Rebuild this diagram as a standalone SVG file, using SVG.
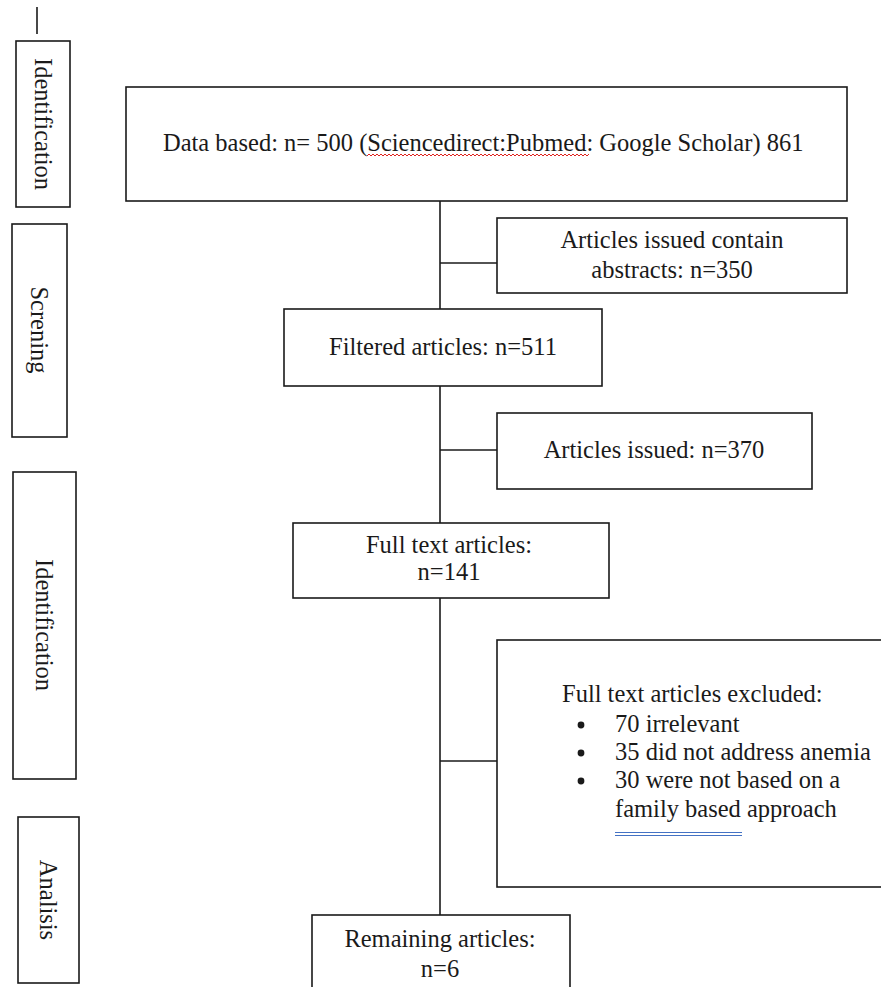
<svg xmlns="http://www.w3.org/2000/svg" width="881" height="987" viewBox="0 0 881 987">
<style>
  .box{fill:#fff;stroke:#1a1a1a;stroke-width:1.6}
  .t{font-family:"Liberation Serif","Times New Roman",serif;font-size:24.5px;fill:#1a1a1a}
  .c{text-anchor:middle}
  .r{text-anchor:middle;dominant-baseline:central}
  .ln{stroke:#1a1a1a;stroke-width:1.6;fill:none}
</style>
<defs>
  <pattern id="squig" patternUnits="userSpaceOnUse" x="367" y="153" width="4" height="4">
    <path d="M0,3 L2,1 L4,3" stroke="#e0201c" stroke-width="1" fill="none"/>
  </pattern>
</defs>
<rect width="881" height="987" fill="#fff"/>

<g id="connectors">
  <line class="ln" x1="37" y1="7" x2="37" y2="34"/>
  <line class="ln" x1="440" y1="201" x2="440" y2="309"/>
  <line class="ln" x1="440" y1="386" x2="440" y2="523"/>
  <line class="ln" x1="440" y1="598" x2="440" y2="915"/>
  <line class="ln" x1="440" y1="263" x2="497" y2="263"/>
  <line class="ln" x1="440" y1="450" x2="497" y2="450"/>
  <line class="ln" x1="440" y1="761" x2="497" y2="761"/>
</g>

<g id="stage-identification-1">
  <rect class="box" x="16" y="41" width="54" height="166"/>
  <text class="t r" transform="rotate(90 43 124)" x="43" y="124">Identification</text>
</g>
<g id="stage-screning">
  <rect class="box" x="12" y="224" width="55" height="213"/>
  <text class="t r" transform="rotate(90 39.5 330)" x="39.5" y="330">Screning</text>
</g>
<g id="stage-identification-2">
  <rect class="box" x="13" y="472" width="63" height="307"/>
  <text class="t r" transform="rotate(90 44.5 625)" x="44.5" y="625">Identification</text>
</g>
<g id="stage-analisis">
  <rect class="box" x="18" y="817" width="61" height="166"/>
  <text class="t r" transform="rotate(90 48.5 900)" x="48.5" y="900">Analisis</text>
</g>

<g id="data-based">
  <rect class="box" x="126" y="87" width="721" height="114"/>
  <text class="t" x="163" y="151">Data based: n= 500 (Sciencedirect:Pubmed: Google Scholar) 861</text>
  <rect x="367" y="153" width="222" height="4" fill="url(#squig)"/>
</g>

<g id="abstracts">
  <rect class="box" x="497" y="218" width="350" height="75"/>
  <text class="t c" x="672" y="248">Articles issued contain</text>
  <text class="t c" x="672" y="278">abstracts: n=350</text>
</g>

<g id="filtered">
  <rect class="box" x="284" y="309" width="318" height="77"/>
  <text class="t c" x="443" y="355">Filtered articles: n=511</text>
</g>

<g id="issued">
  <rect class="box" x="497" y="413" width="315" height="76"/>
  <text class="t c" x="654" y="458">Articles issued: n=370</text>
</g>

<g id="fulltext">
  <rect class="box" x="293" y="523" width="316" height="75"/>
  <text class="t c" x="449" y="553">Full text articles:</text>
  <text class="t c" x="449" y="580">n=141</text>
</g>

<g id="excluded">
  <rect class="box" x="497" y="640" width="400" height="247"/>
  <text class="t" x="562" y="702">Full text articles excluded:</text>
  <circle cx="581" cy="725" r="3.4" fill="#1a1a1a"/>
  <circle cx="581" cy="753" r="3.4" fill="#1a1a1a"/>
  <circle cx="581" cy="781" r="3.4" fill="#1a1a1a"/>
  <text class="t" x="615" y="732">70 irrelevant</text>
  <text class="t" x="615" y="760">35 did not address anemia</text>
  <text class="t" x="615" y="788">30 were not based on a</text>
  <text class="t" x="615" y="817">family based approach</text>
  <line x1="615" y1="832.5" x2="742" y2="832.5" stroke="#4472c4" stroke-width="1"/>
  <line x1="615" y1="835.5" x2="742" y2="835.5" stroke="#4472c4" stroke-width="1"/>
</g>

<g id="remaining">
  <rect class="box" x="312" y="915" width="258" height="90"/>
  <text class="t c" x="440" y="947">Remaining articles:</text>
  <text class="t c" x="440" y="977">n=6</text>
</g>
</svg>
